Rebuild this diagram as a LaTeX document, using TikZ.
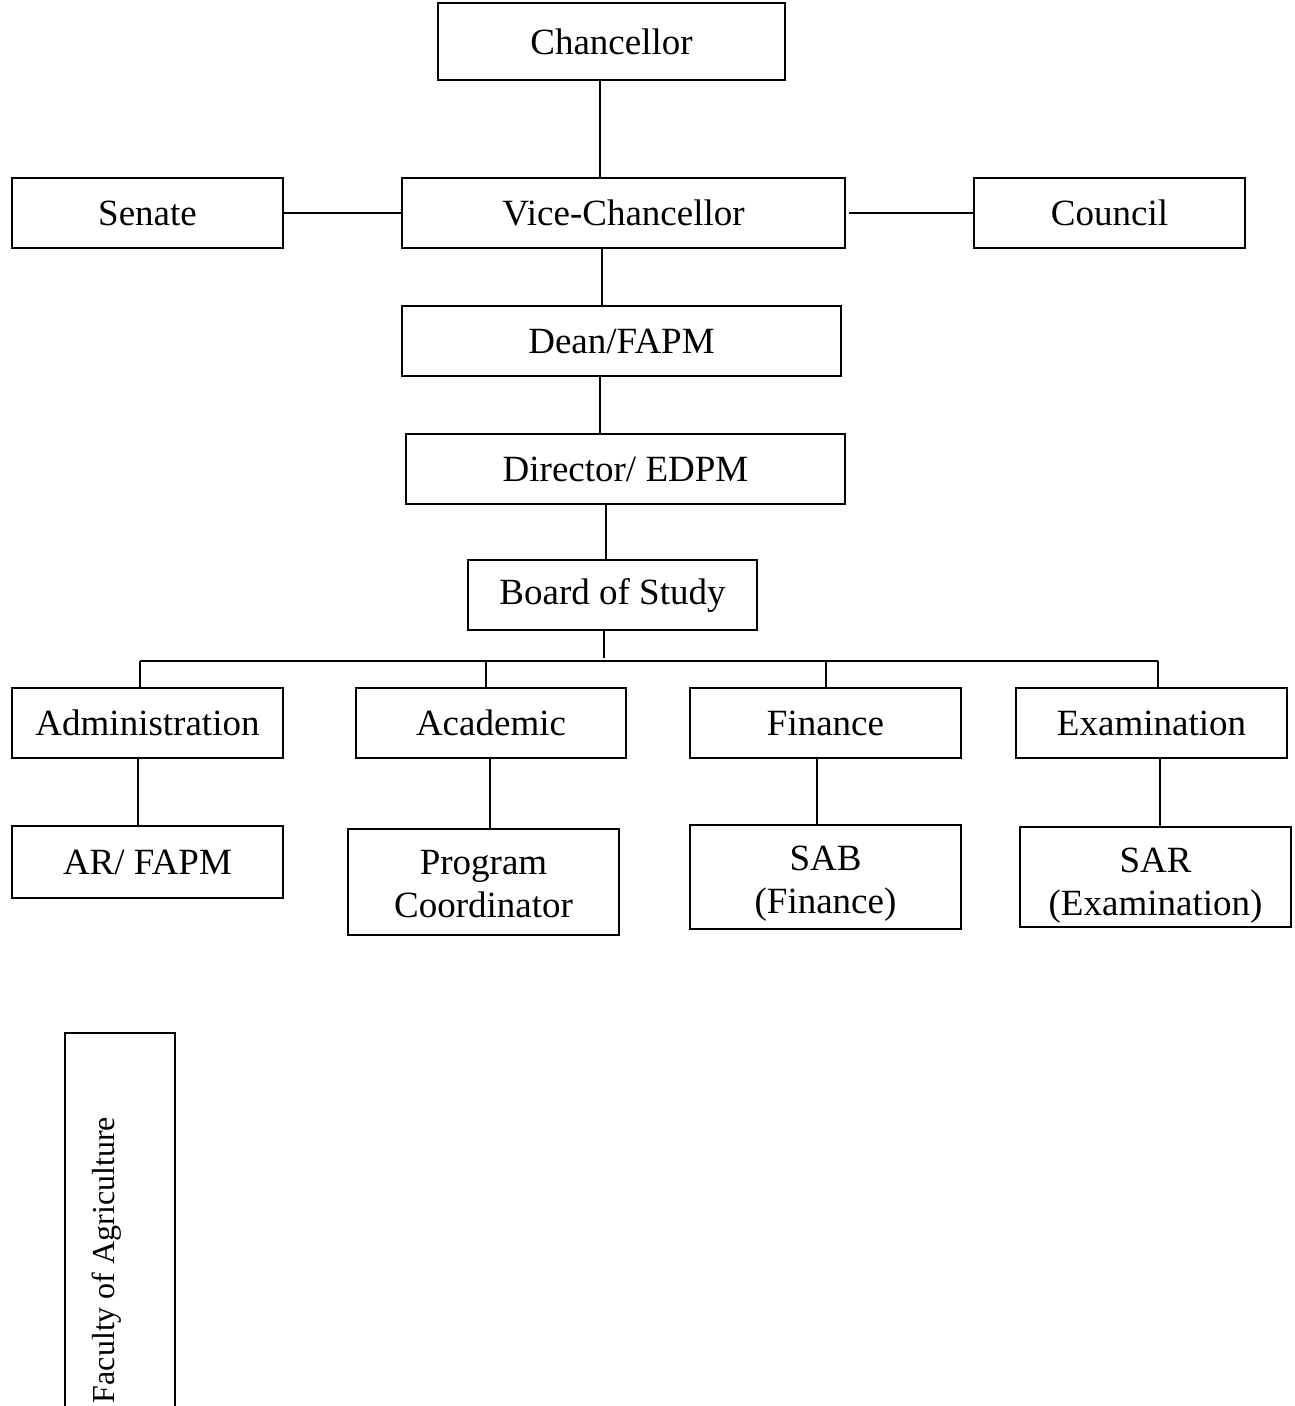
\documentclass[tikz,border=0pt]{standalone}
\usepackage{fontspec}
\setmainfont{Liberation Serif}
\begin{document}
\begin{tikzpicture}[x=1pt,y=-1pt,
  box/.style={draw, line width=1.6pt, inner sep=0pt, align=center,
    font=\fontsize{37}{43}\selectfont},
  conn/.style={line width=1.8pt}]
\useasboundingbox (0,0) rectangle (1295,1406);
\node[box, minimum width=347pt, minimum height=77pt] (chan) at (611.5,41.5) {Chancellor};
\node[box, minimum width=271pt, minimum height=70pt] (sen) at (147.5,213) {Senate};
\node[box, minimum width=443pt, minimum height=70pt] (vc) at (623.5,213) {Vice-Chancellor};
\node[box, minimum width=271pt, minimum height=70pt] (cou) at (1109.5,213) {Council};
\node[box, minimum width=439pt, minimum height=70pt] (dean) at (621.5,341) {Dean/FAPM};
\node[box, minimum width=439pt, minimum height=70pt] (dir) at (625.5,469) {Director/ EDPM};
\node[box, minimum width=289pt, minimum height=70pt] (bos) at (612.5,595) {Board of Study};
\node[box, minimum width=271pt, minimum height=70pt] (adm) at (147.5,723) {Administration};
\node[box, minimum width=270pt, minimum height=70pt] (aca) at (491,723) {Academic};
\node[box, minimum width=271pt, minimum height=70pt] (fin) at (825.5,723) {Finance};
\node[box, minimum width=271pt, minimum height=70pt] (exa) at (1151.5,723) {Examination};
\node[box, minimum width=271pt, minimum height=72pt] (ar) at (147.5,862) {AR/ FAPM};
\node[box, minimum width=271pt, minimum height=106pt] (pc) at (483.5,882) {\rule{0pt}{28pt}Program\\Coordinator};
\node[box, minimum width=271pt, minimum height=104pt] (sab) at (825.5,877) {\rule{0pt}{38.5pt}SAB\\(Finance)};
\node[box, minimum width=271pt, minimum height=100pt] (sar) at (1155.5,877) {\rule{0pt}{42.5pt}SAR\\(Examination)};
\node[draw, line width=1.6pt, inner sep=0pt, minimum width=110pt, minimum height=387pt] (fac) at (120,1226.5) {};
\node[rotate=90, inner sep=0pt, font=\fontsize{32}{38}\selectfont] (factext) at (107,1260) {Faculty of Agriculture};
% connectors
\draw[conn] (chan.south -| 600,0) -- (vc.north -| 600,0);
\draw[conn] (sen.east) -- (vc.west);
\draw[conn] ([xshift=3pt]vc.east) -- ([xshift=2pt]cou.west);
\draw[conn] (vc.south -| 602,0) -- (dean.north -| 602,0);
\draw[conn] (dean.south -| 600,0) -- (dir.north -| 600,0);
\draw[conn] (dir.south -| 606,0) -- (bos.north -| 606,0);
\coordinate (busL) at (140,661);
\coordinate (busR) at (1158,661);
\draw[conn] (bos.south -| 604,0) -- (604,658);
\draw[conn] (busL) -- (busR);
\draw[conn] (busL) -- (adm.north -| busL);
\draw[conn] (486,661) -- (aca.north -| 486,0);
\draw[conn] (826,661) -- (fin.north -| 826,0);
\draw[conn] (busR) -- (exa.north -| busR);
\draw[conn] (adm.south -| 138,0) -- (ar.north -| 138,0);
\draw[conn] (aca.south -| 490,0) -- (pc.north -| 490,0);
\draw[conn] (fin.south -| 817,0) -- (sab.north -| 817,0);
\draw[conn] (exa.south -| 1160,0) -- (sar.north -| 1160,0);
\end{tikzpicture}
\end{document}
